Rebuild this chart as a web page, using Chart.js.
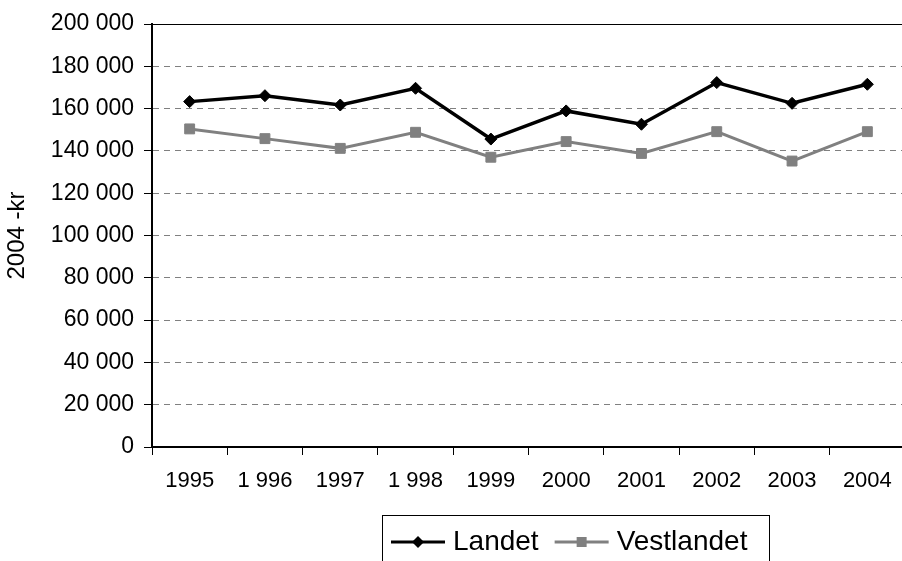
<!DOCTYPE html>
<html>
<head>
<meta charset="utf-8">
<script src="https://cdn.jsdelivr.net/npm/chart.js@4/dist/chart.umd.min.js"></script>
<style>
  html, body { margin: 0; padding: 0; overflow: hidden; background: #fff; }
  canvas { display: block; }
</style>
</head>
<body>
<canvas id="chart" width="913" height="561"></canvas>
<script>
// --- data ---
var years = ['1995', '1 996', '1997', '1 998', '1999', '2000', '2001', '2002', '2003', '2004'];
var landet = [163300, 166100, 161700, 169600, 145600, 158900, 152600, 172300, 162500, 171500];
var vestlandet = [150400, 145800, 141200, 148800, 137000, 144400, 138800, 149100, 135200, 149100];
var yMin = 0, yMax = 200000, yStep = 20000;
var yTitle = '2004 -kr';

var font = "'Liberation Sans', Arial, sans-serif";

function fmt(v) {
    return String(v).replace(/\B(?=(\d{3})+(?!\d))/g, ' ');
}

// legend drawn as a box with line + marker, like the original
var boxLegend = {
    id: 'boxLegend',
    afterDraw: function(chart) {
        var ctx = chart.ctx;
        ctx.save();
        ctx.strokeStyle = '#000';
        ctx.lineWidth = 1;
        ctx.strokeRect(382.5, 515.5, 387, 60);
        ctx.font = '28px ' + font;
        ctx.textBaseline = 'middle';
        var x = 391, y = 542;
        chart.data.datasets.forEach(function(ds) {
            ctx.strokeStyle = ds.borderColor;
            ctx.lineWidth = 3;
            ctx.beginPath();
            ctx.moveTo(x, y);
            ctx.lineTo(x + 54, y);
            ctx.stroke();
            var cx = x + 27;
            ctx.fillStyle = ds.pointBackgroundColor;
            ctx.beginPath();
            if (ds.pointStyle === 'rectRot') {
                ctx.moveTo(cx, y - 6); ctx.lineTo(cx + 6, y); ctx.lineTo(cx, y + 6); ctx.lineTo(cx - 6, y);
                ctx.closePath();
            } else {
                ctx.rect(cx - 5, y - 5, 10, 10);
            }
            ctx.fill();
            ctx.fillStyle = '#000';
            ctx.fillText(ds.label, x + 62, y);
            x += 62 + ctx.measureText(ds.label).width + 16;
        });
        ctx.restore();
    }
};

var chart = new Chart(document.getElementById('chart'), {
    type: 'line',
    data: {
        labels: years,
        datasets: [{
            label: 'Landet',
            data: landet,
            borderColor: '#000000',
            backgroundColor: '#000000',
            pointBackgroundColor: '#000000',
            pointBorderColor: '#000000',
            borderWidth: 3.5,
            pointStyle: 'rectRot',
            pointRadius: 6,
            pointBorderWidth: 1,
            tension: 0
        }, {
            label: 'Vestlandet',
            data: vestlandet,
            borderColor: '#808080',
            backgroundColor: '#808080',
            pointBackgroundColor: '#808080',
            pointBorderColor: '#808080',
            borderWidth: 3,
            pointStyle: 'rect',
            pointRadius: 7,
            pointBorderWidth: 1,
            tension: 0
        }]
    },
    options: {
        responsive: false,
        animation: false,
        devicePixelRatio: 1,
        layout: { padding: { top: 24, right: 1, left: 0, bottom: 0 } },
        plugins: {
            legend: { display: false },
            tooltip: { enabled: false }
        },
        scales: {
            x: {
                offset: true,
                grid: {
                    offset: true,
                    drawOnChartArea: false,
                    tickLength: 8,
                    tickColor: '#000',
                    tickWidth: 1
                },
                border: { color: '#000', width: 2 },
                ticks: {
                    color: '#000',
                    font: { family: font, size: 22 },
                    maxRotation: 0,
                    autoSkip: false,
                    padding: 13
                },
                afterFit: function(scale) { scale.height = 114; }
            },
            y: {
                min: yMin,
                max: yMax,
                grid: {
                    color: function(c) { return c.tick && c.tick.value === yMax ? '#000' : '#808080'; },
                    lineWidth: 1,
                    tickLength: 8,
                    tickColor: '#000',
                    tickWidth: 1,
                    tickBorderDash: []
                },
                border: {
                    color: '#000',
                    width: 2,
                    dash: function(c) { return c.tick && c.tick.value === yMax ? [] : [6, 5]; }
                },
                ticks: {
                    stepSize: yStep,
                    color: '#000',
                    padding: 10,
                    font: { family: font, size: 23 },
                    callback: function(v) { return fmt(v); }
                },
                title: {
                    display: true,
                    text: yTitle,
                    color: '#000',
                    font: { family: font, size: 24 },
                    padding: 3
                },
                afterFit: function(scale) { scale.width = 152; }
            }
        }
    },
    plugins: [boxLegend]
});
</script>
</body>
</html>
